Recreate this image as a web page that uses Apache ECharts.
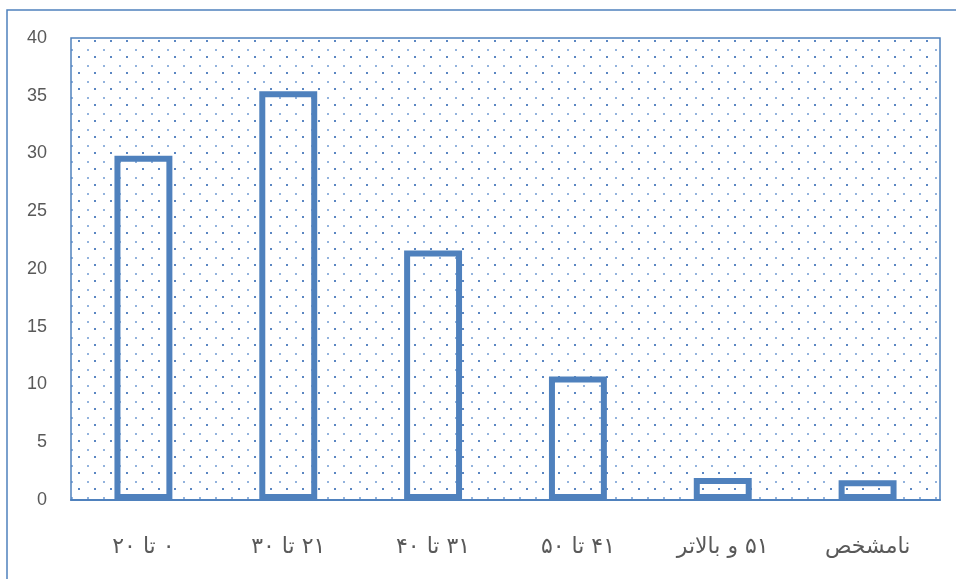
<!DOCTYPE html>
<html>
<head>
<meta charset="utf-8">
<script src="https://cdn.jsdelivr.net/npm/echarts@6/dist/echarts.min.js"></script>
<style>
  html, body { margin: 0; padding: 0; background: #fff; }
  #chart { width: 956px; height: 579px; }
</style>
</head>
<body>
<div id="chart"></div>
<script>
// age groups
var categories = ["۰ تا ۲۰", "۲۱ تا ۳۰", "۳۱ تا ۴۰", "۴۱ تا ۵۰", "۵۱ و بالاتر", "نامشخص"];
var values = [29.8, 35.4, 21.6, 10.7, 1.9, 1.7];
var yTicks = [0, 5, 10, 15, 20, 25, 30, 35, 40];

var BLUE = "#4F81BD";
var GREY = "#595959";

// dotted fill tile for the plot area
function dotTile() {
  var c = document.createElement("canvas");
  c.width = 16;
  c.height = 16;
  var ctx = c.getContext("2d");
  ctx.fillStyle = "#fff";
  ctx.fillRect(0, 0, 16, 16);
  ctx.fillStyle = "#5a86c2";
  ctx.fillRect(14, 8, 2, 2);
  ctx.fillStyle = "#93b3dd";
  ctx.fillRect(7, 1, 2, 2);
  return c;
}

var chart = echarts.init(document.getElementById("chart"), null, { renderer: "canvas" });

chart.setOption({
  animation: false,
  grid: {
    left: 71,
    right: 16,
    top: 38,
    bottom: 79,
    show: true,
    backgroundColor: { image: dotTile(), repeat: "repeat" },
    borderColor: BLUE,
    borderWidth: 1.5
  },
  graphic: [{
    type: "rect",
    shape: { x: 7, y: 10, width: 1200, height: 1200 },
    style: { fill: null, stroke: BLUE, lineWidth: 1.5 },
    silent: true,
    z: -1
  }],
  xAxis: {
    type: "category",
    data: categories,
    axisLine: { show: true, lineStyle: { color: BLUE, width: 2 } },
    axisTick: { show: false },
    axisLabel: {
      color: GREY,
      fontSize: 22,
      fontFamily: "DejaVu Sans",
      margin: 36,
      formatter: function (v) { return "\u200F" + v; }
    }
  },
  yAxis: {
    type: "value",
    min: yTicks[0],
    max: yTicks[yTicks.length - 1],
    interval: 5,
    axisLine: { show: false },
    axisTick: { show: false },
    splitLine: { show: false },
    axisLabel: {
      color: GREY,
      fontSize: 18,
      fontFamily: "Liberation Sans",
      margin: 24
    }
  },
  series: [{
    type: "bar",
    data: values,
    barWidth: "40%",
    itemStyle: {
      color: "rgba(255,255,255,0)",
      borderColor: BLUE,
      borderWidth: 6
    }
  }]
});
</script>
</body>
</html>
